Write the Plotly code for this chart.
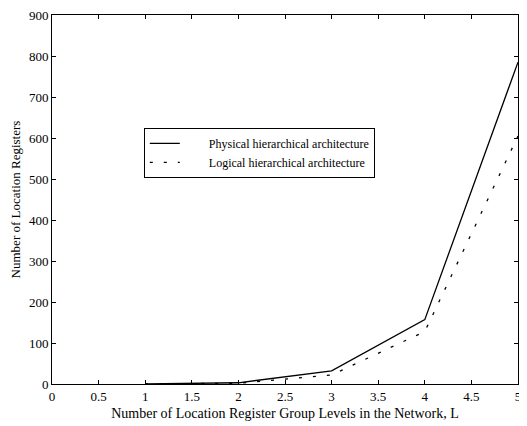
import plotly.graph_objects as go

L = [1, 2, 3, 4, 5]
physical = [0, 3, 32, 157, 785]
logical = [0, 2, 22, 128, 605]

x_ticks = [0, 0.5, 1, 1.5, 2, 2.5, 3, 3.5, 4, 4.5, 5]
x_tick_labels = ["0", "0.5", "1", "1.5", "2", "2.5", "3", "3.5", "4", "4.5", "5"]
y_ticks = [0, 100, 200, 300, 400, 500, 600, 700, 800, 900]

font_family = "Liberation Serif"

fig = go.Figure()
fig.add_trace(go.Scatter(x=L, y=physical, mode="lines",
                         name="        Physical hierarchical architecture",
                         line=dict(color="black", width=1.3)))
fig.add_trace(go.Scatter(x=L, y=logical, mode="lines",
                         name="        Logical hierarchical architecture",
                         line=dict(color="black", width=1.3, dash="3px,11px")))

axis_common = dict(showline=True, linecolor="black", linewidth=1, mirror="ticks",
                   ticks="inside", ticklen=4, tickcolor="black", showgrid=False,
                   zeroline=False, automargin=False, ticklabeloverflow="allow",
                   tickfont=dict(family=font_family, size=13, color="black"))

# page body has an 8px margin, so the figure is sized/offset to compensate
fig.update_layout(
    width=519, height=418,
    margin=dict(l=44, r=9, t=7, b=42),
    plot_bgcolor="white", paper_bgcolor="white",
    font=dict(family=font_family, color="black", size=12),
    xaxis=dict(range=[0, 5], tickvals=x_ticks, ticktext=x_tick_labels,
               title=dict(text="Number of Location Register Group Levels in the Network, L",
                          font=dict(size=14), standoff=5),
               **axis_common),
    yaxis=dict(range=[0, 900], tickvals=y_ticks,
               title=dict(text="Number of Location Registers", font=dict(size=13), standoff=8),
               **axis_common),
    legend=dict(x=0.197, y=0.694, xanchor="left", yanchor="top",
                bgcolor="white", bordercolor="black", borderwidth=1,
                font=dict(family=font_family, size=12, color="black"),
                tracegroupgap=0, itemwidth=30,
                entrywidth=225, entrywidthmode="pixels"),
    showlegend=True,
)

fig.write_html("out.html")
